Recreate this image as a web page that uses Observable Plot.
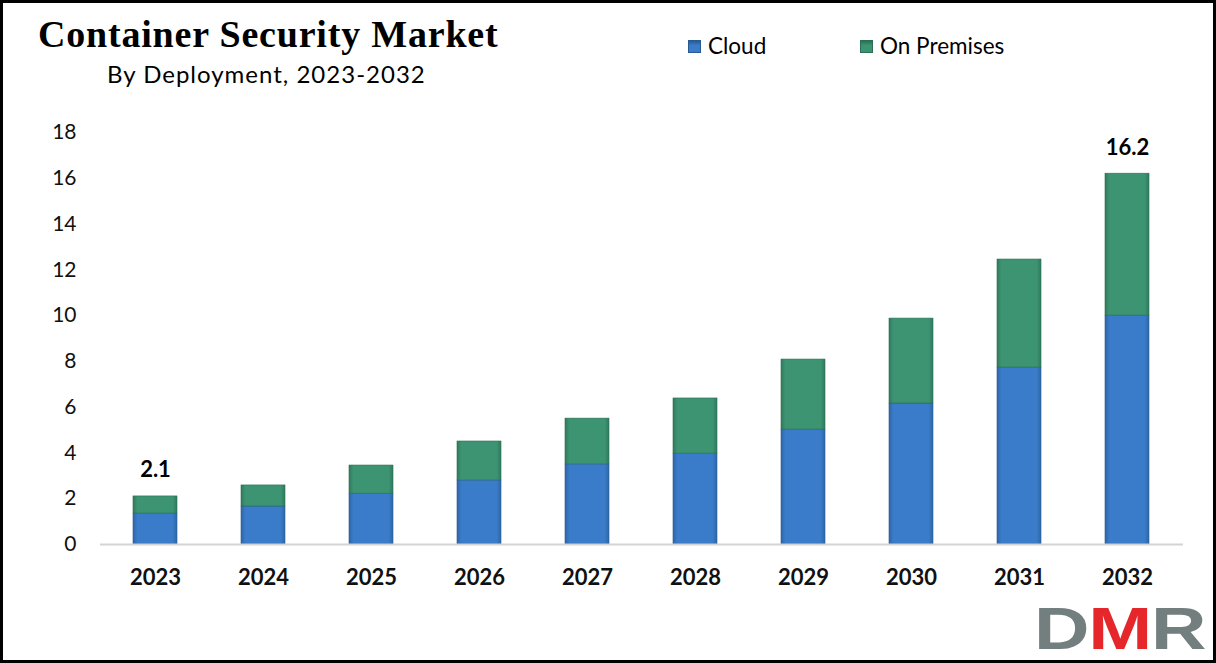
<!DOCTYPE html>
<html>
<head>
<meta charset="utf-8">
<script src="https://cdn.jsdelivr.net/npm/d3@7"></script>
<script src="https://cdn.jsdelivr.net/npm/@observablehq/plot@0.6"></script>
<style>
  html, body { margin: 0; padding: 0; background: #fff; }
  body { width: 1216px; height: 663px; position: relative; overflow: hidden; }
  #frame { position: absolute; left: 0; top: 0; width: 1216px; height: 663px; box-sizing: border-box; border: 3px solid #000; }
  #chart { position: absolute; left: 3px; top: 3px; }
  #title { position: absolute; left: 38px; top: 15px; font: bold 38px "Liberation Serif", "Times New Roman", serif; letter-spacing: 0.8px; line-height: 38px; color: #000; white-space: nowrap; }
  #subtitle { position: absolute; left: 107px; top: 59px; font: 24px Lato, "Open Sans", sans-serif; letter-spacing: 1px; line-height: 29px; color: #000; white-space: nowrap; }
  #legend { position: absolute; left: 688px; top: 32px; font: 22.5px Lato, sans-serif; line-height: 28px; color: #000; white-space: nowrap; }
  #legend .item { position: absolute; top: 0; display: flex; align-items: center; }
  #legend .sw { width: 13px; height: 13px; margin-right: 7px; box-sizing: border-box; }
  #logo { position: absolute; left: 1034px; top: 595px; font: bold 60px "Liberation Sans", Arial, sans-serif; line-height: 67px; letter-spacing: -1px; white-space: nowrap; transform: scaleX(1.28); transform-origin: left top; }
</style>
</head>
<body>
<div id="frame"></div>
<div id="chart"></div>
<div id="title"></div>
<div id="subtitle"></div>
<div id="legend"></div>
<div id="logo"></div>
<script>
const titleText = "Container Security Market";
const subtitleText = "By Deployment, 2023-2032";
const years = ["2023","2024","2025","2026","2027","2028","2029","2030","2031","2032"];
const seriesNames = ["Cloud", "On Premises"];
const cloud =      [1.35, 1.66, 2.22, 2.80, 3.50, 3.97, 5.02, 6.16, 7.73, 10.0];
const onPremises = [0.75, 0.92, 1.23, 1.70, 2.00, 2.41, 3.06, 3.71, 4.72, 6.2];
const totalLabels = [{year: "2023", label: "2.1"}, {year: "2032", label: "16.2"}];
const yTicks = [0, 2, 4, 6, 8, 10, 12, 14, 16, 18];
const colors = {"Cloud": "#3a7cc9", "On Premises": "#3d9472"};
const gradIds = {"Cloud": "gCloud", "On Premises": "gPrem"};

const rows = [];
years.forEach((yr, i) => {
  rows.push({year: yr, series: "Cloud", value: cloud[i]});
  rows.push({year: yr, series: "On Premises", value: onPremises[i]});
});
const totals = years.map((yr, i) => ({year: yr, total: cloud[i] + onPremises[i]}));
const labelRows = totalLabels.map(d => ({...d, total: totals.find(t => t.year === d.year).total}));

document.getElementById("title").textContent = titleText;
document.getElementById("subtitle").textContent = subtitleText;

const defs = () => {
  const ns = "http://www.w3.org/2000/svg";
  const d = document.createElementNS(ns, "defs");
  const mk = (id, edge, mid) => {
    const g = document.createElementNS(ns, "linearGradient");
    g.setAttribute("id", id);
    g.setAttribute("x1", "0"); g.setAttribute("x2", "1"); g.setAttribute("y1", "0"); g.setAttribute("y2", "0");
    [[0, edge], [0.1, mid], [0.9, mid], [1, edge]].forEach(([o, c]) => {
      const s = document.createElementNS(ns, "stop");
      s.setAttribute("offset", o); s.setAttribute("stop-color", c);
      g.appendChild(s);
    });
    d.appendChild(g);
  };
  mk("gCloud", "#2e66a8", colors["Cloud"]);
  mk("gPrem", "#2f7a5c", colors["On Premises"]);
  return d;
};

const chart = Plot.plot({
  width: 1210,
  height: 657,
  marginTop: 129,
  marginBottom: 116,
  marginLeft: 97,
  marginRight: 30,
  style: {fontFamily: "Lato, sans-serif", background: "transparent", overflow: "visible"},
  x: {domain: years, type: "band", paddingInner: 0.59, paddingOuter: 0.295, label: null},
  y: {domain: [0, 18], label: null},
  marks: [
    defs,
    Plot.barY(rows, {
      x: "year", y: "value", order: seriesNames,
      fill: d => `url(#${gradIds[d.series]})`,
      stroke: d => d.series === "Cloud" ? "#2a5a92" : "#2c6f54",
      strokeWidth: 0.6
    }),
    Plot.ruleY([0], {stroke: "#d4d4d4", strokeWidth: 2}),
    Plot.axisY({ticks: yTicks, tickSize: 0, tickPadding: 24, fontSize: 21, fill: "#111", tickFormat: d => String(d)}),
    Plot.axisX({tickSize: 0, tickPadding: 25, fontSize: 22, fontWeight: "bold", fill: "#111"}),
    Plot.text(labelRows, {x: "year", y: "total", text: "label", dy: -26, fontSize: 22, fontWeight: "bold", fill: "#000"})
  ]
});
document.getElementById("chart").appendChild(chart);

const legend = document.getElementById("legend");
const legendX = {"Cloud": 0, "On Premises": 172};
seriesNames.forEach(s => {
  const it = document.createElement("div");
  it.className = "item";
  it.style.left = legendX[s] + "px";
  const sw = document.createElement("span");
  sw.className = "sw";
  sw.style.background = `linear-gradient(to bottom, ${s === "Cloud" ? "#2a5a92" : "#2c6f54"} 0%, ${colors[s]} 40%, ${colors[s]} 100%)`;
  sw.style.border = `1px solid ${s === "Cloud" ? "#2a5a92" : "#2c6f54"}`;
  const t = document.createElement("span");
  t.textContent = s;
  it.appendChild(sw); it.appendChild(t);
  legend.appendChild(it);
});

const logo = document.getElementById("logo");
[["D", "#737e7e"], ["M", "#e5262a"], ["R", "#737e7e"]].forEach(([ch, c]) => {
  const sp = document.createElement("span");
  sp.textContent = ch; sp.style.color = c;
  logo.appendChild(sp);
});
</script>
</body>
</html>
